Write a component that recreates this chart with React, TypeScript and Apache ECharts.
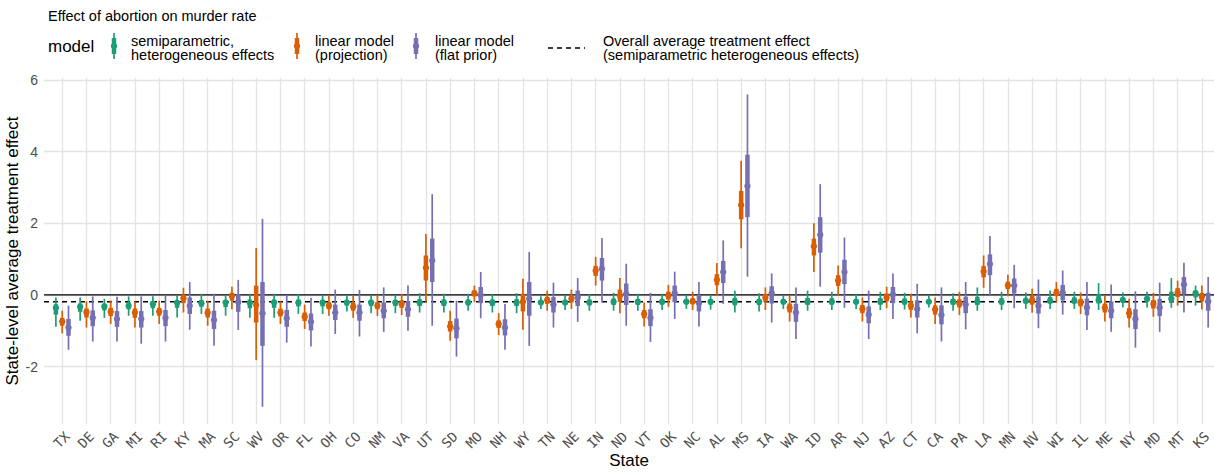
import React, { useEffect, useRef } from "react";
import * as echarts from "echarts";

const states = ["TX","DE","GA","MI","RI","KY","MA","SC","WV","OR","FL","OH","CO","NM","VA","UT","SD","MO","NH","WY","TN","NE","IN","ND","VT","OK","NC","AL","MS","IA","WA","ID","AR","NJ","AZ","CT","CA","PA","LA","MN","NV","WI","IL","ME","NY","MD","MT","KS"];

// semiparametric, heterogeneous effects
const semiPoint = [-0.36,-0.33,-0.32,-0.30,-0.25,-0.22,-0.23,-0.21,-0.22,-0.21,-0.21,-0.21,-0.21,-0.21,-0.21,-0.21,-0.21,-0.21,-0.21,-0.21,-0.21,-0.21,-0.21,-0.19,-0.19,-0.19,-0.19,-0.19,-0.19,-0.19,-0.19,-0.19,-0.19,-0.19,-0.19,-0.19,-0.19,-0.19,-0.19,-0.19,-0.16,-0.16,-0.16,-0.14,-0.14,-0.11,-0.11,0.05];
const semiLo95 = [-0.89,-0.72,-0.64,-0.58,-0.58,-0.63,-0.53,-0.58,-0.64,-0.64,-0.53,-0.53,-0.46,-0.51,-0.51,-0.49,-0.49,-0.44,-0.49,-0.51,-0.39,-0.42,-0.44,-0.44,-0.44,-0.42,-0.39,-0.41,-0.49,-0.46,-0.39,-0.44,-0.42,-0.39,-0.42,-0.41,-0.35,-0.44,-0.44,-0.42,-0.39,-0.39,-0.39,-0.42,-0.35,-0.35,-0.36,-0.30];
const semiHi95 = [-0.07,-0.07,-0.11,-0.04,-0.04,-0.02,0.03,-0.02,0.03,0.03,0.03,0.00,0.00,0.00,0.00,0.05,0.03,0.03,0.03,0.05,-0.04,-0.02,0.03,0.06,0.03,0.03,0.00,0.00,0.12,0.05,-0.02,0.12,0.09,0.03,0.09,0.06,-0.02,0.05,0.21,0.09,0.07,0.12,0.09,0.33,0.07,0.09,0.47,0.26];
const semiLo66 = [-0.55,-0.47,-0.43,-0.40,-0.37,-0.36,-0.33,-0.34,-0.37,-0.36,-0.32,-0.32,-0.30,-0.31,-0.31,-0.31,-0.31,-0.29,-0.31,-0.31,-0.27,-0.28,-0.29,-0.28,-0.28,-0.27,-0.26,-0.27,-0.29,-0.28,-0.26,-0.28,-0.27,-0.26,-0.27,-0.27,-0.25,-0.28,-0.28,-0.27,-0.24,-0.24,-0.24,-0.24,-0.21,-0.19,-0.20,-0.07];
const semiHi66 = [-0.26,-0.24,-0.25,-0.21,-0.18,-0.15,-0.14,-0.14,-0.13,-0.13,-0.13,-0.14,-0.14,-0.14,-0.14,-0.12,-0.13,-0.13,-0.13,-0.12,-0.15,-0.14,-0.13,-0.10,-0.11,-0.11,-0.12,-0.12,-0.08,-0.11,-0.13,-0.08,-0.09,-0.11,-0.09,-0.10,-0.13,-0.11,-0.05,-0.09,-0.08,-0.06,-0.07,0.02,-0.07,-0.04,0.09,0.12];

// linear model (projection)
const projPoint = [-0.74,-0.48,-0.47,-0.49,-0.46,-0.09,-0.50,-0.03,-0.28,-0.49,-0.61,-0.30,-0.33,-0.30,-0.25,0.76,-0.88,0.05,-0.81,-0.19,-0.14,-0.11,0.68,-0.02,-0.53,-0.02,-0.18,0.42,2.51,-0.07,-0.36,1.36,0.40,-0.39,-0.07,-0.30,-0.41,-0.23,0.65,0.26,-0.14,0.07,-0.21,-0.36,-0.51,-0.25,0.07,-0.05];
const projLo95 = [-1.07,-0.91,-0.81,-0.91,-0.81,-0.49,-0.86,-0.40,-1.82,-0.81,-0.95,-0.58,-0.64,-0.59,-0.56,-0.19,-1.28,-0.20,-1.12,-0.97,-0.44,-0.39,0.26,-0.51,-0.88,-0.33,-0.42,-0.02,1.30,-0.42,-0.74,0.64,-0.02,-0.74,-0.37,-0.63,-0.81,-0.56,0.20,-0.04,-0.50,-0.21,-0.53,-0.74,-0.91,-0.61,-0.30,-0.41];
const projHi95 = [-0.44,-0.18,-0.16,-0.18,-0.16,0.20,-0.16,0.23,1.31,-0.18,-0.27,-0.02,-0.02,0.00,0.03,1.70,-0.44,0.26,-0.51,0.45,0.12,0.15,1.06,0.47,-0.21,0.28,0.09,0.89,3.74,0.21,-0.02,2.00,0.82,-0.07,0.23,0.03,-0.07,0.09,1.10,0.56,0.17,0.36,0.07,-0.03,-0.11,0.06,0.40,0.26];
const projLo66 = [-0.86,-0.63,-0.59,-0.64,-0.58,-0.23,-0.63,-0.16,-0.77,-0.60,-0.73,-0.40,-0.44,-0.40,-0.36,0.40,-1.02,-0.04,-0.92,-0.46,-0.25,-0.21,0.53,-0.19,-0.65,-0.13,-0.26,0.27,2.11,-0.19,-0.49,1.10,0.25,-0.51,-0.18,-0.42,-0.55,-0.35,0.49,0.16,-0.27,-0.03,-0.32,-0.49,-0.65,-0.38,-0.06,-0.18];
const projHi66 = [-0.64,-0.38,-0.36,-0.38,-0.36,0.01,-0.38,0.06,0.26,-0.38,-0.49,-0.20,-0.22,-0.20,-0.15,1.10,-0.73,0.12,-0.71,0.03,-0.05,-0.02,0.81,0.15,-0.42,0.09,-0.09,0.58,2.90,0.03,-0.24,1.57,0.55,-0.28,0.04,-0.18,-0.29,-0.12,0.81,0.37,-0.03,0.17,-0.11,-0.24,-0.37,-0.14,0.19,0.06];

// linear model (flat prior)
const flatPoint = [-0.91,-0.64,-0.67,-0.67,-0.64,-0.30,-0.70,-0.20,-0.51,-0.65,-0.75,-0.49,-0.49,-0.44,-0.40,0.96,-0.93,0.00,-0.91,-0.11,-0.27,-0.07,0.73,0.03,-0.64,0.05,-0.23,0.64,3.04,0.05,-0.49,1.68,0.64,-0.55,0.01,-0.39,-0.56,-0.27,0.86,0.26,-0.30,0.07,-0.35,-0.44,-0.67,-0.35,0.29,-0.18];
const flatLo95 = [-1.53,-1.30,-1.30,-1.36,-1.30,-0.97,-1.42,-0.98,-3.12,-1.33,-1.44,-1.09,-1.16,-1.03,-1.00,-0.86,-1.72,-0.65,-1.53,-1.42,-0.91,-0.75,-0.21,-0.86,-1.31,-0.67,-0.88,-0.25,0.51,-0.77,-1.23,0.23,-0.36,-1.23,-0.67,-1.07,-1.30,-0.96,-0.02,-0.37,-0.93,-0.55,-0.98,-1.03,-1.47,-1.03,-0.49,-0.91];
const flatHi95 = [-0.30,-0.04,-0.05,-0.04,0.00,0.36,0.03,0.42,2.12,0.00,-0.08,0.15,0.14,0.21,0.26,2.81,-0.16,0.64,-0.25,1.20,0.34,0.47,1.59,0.87,0.06,0.65,0.36,1.52,5.59,0.60,0.21,3.09,1.60,0.12,0.60,0.31,0.21,0.36,1.64,0.84,0.43,0.68,0.36,0.29,0.10,0.34,0.90,0.50];
const flatLo66 = [-1.14,-0.87,-0.89,-0.91,-0.87,-0.53,-0.95,-0.47,-1.42,-0.89,-0.99,-0.70,-0.72,-0.65,-0.61,0.36,-1.21,-0.23,-1.13,-0.58,-0.49,-0.31,0.40,-0.28,-0.87,-0.20,-0.46,0.33,2.17,-0.24,-0.75,1.18,0.30,-0.79,-0.23,-0.63,-0.82,-0.51,0.55,0.04,-0.52,-0.15,-0.57,-0.65,-0.95,-0.59,0.02,-0.44];
const flatHi66 = [-0.67,-0.43,-0.45,-0.45,-0.42,-0.07,-0.44,0.02,0.36,-0.42,-0.52,-0.27,-0.27,-0.21,-0.17,1.57,-0.66,0.22,-0.68,0.36,-0.06,0.12,1.03,0.32,-0.40,0.26,-0.02,0.95,3.91,0.24,-0.25,2.17,0.98,-0.32,0.22,-0.15,-0.29,-0.05,1.13,0.46,-0.04,0.28,-0.10,-0.18,-0.40,-0.11,0.50,0.06];

const yTicks = [-2, 0, 2, 4, 6];
const overallATE = -0.19;
const modelLabels = ["semiparametric,\nheterogeneous effects", "linear model\n(projection)", "linear model\n(flat prior)"];
const modelColors = ["#1b9e77", "#d95f02", "#7570b3"];
const ateLabel = "Overall average treatment effect\n(semiparametric heterogeneous effects)";
const titleText = "Effect of abortion on murder rate";

const SANS = '"Liberation Sans", Arial, Helvetica, sans-serif';
const MONO = '"DejaVu Sans Mono", monospace';

export default function App() {
  const ref = useRef<HTMLDivElement>(null);

  useEffect(() => {
    document.body.style.margin = "0";
    const chart = echarts.init(ref.current as HTMLDivElement, null, { renderer: "svg" });
    const xMin = -0.75;
    const xMax = 47.5;
    const stateIdx = states.map((_, i) => i);
    const dodge = [-0.26, 0, 0.26];

    const makeSeries = (
      m: number,
      point: number[],
      lo95: number[],
      hi95: number[],
      lo66: number[],
      hi66: number[]
    ) => ({
      type: "custom",
      name: modelLabels[m],
      z: 5,
      data: states.map((_, k) => [k, point[k], lo95[k], hi95[k], lo66[k], hi66[k]]),
      encode: { x: 0, y: [1, 2, 3, 4, 5] },
      renderItem: (params: any, api: any) => {
        const xv = api.value(0) + dodge[m];
        const p = api.coord([xv, api.value(1)]);
        const l95 = api.coord([xv, api.value(2)]);
        const h95 = api.coord([xv, api.value(3)]);
        const l66 = api.coord([xv, api.value(4)]);
        const h66 = api.coord([xv, api.value(5)]);
        const c = modelColors[m];
        return {
          type: "group",
          children: [
            { type: "line", shape: { x1: p[0], y1: l95[1], x2: p[0], y2: h95[1] }, style: { stroke: c, lineWidth: 1.7 } },
            { type: "line", shape: { x1: p[0], y1: l66[1], x2: p[0], y2: h66[1] }, style: { stroke: c, lineWidth: 4.5 } },
            { type: "circle", shape: { cx: p[0], cy: p[1], r: 3.2 }, style: { fill: c } },
          ],
        };
      },
    });

    const legendKeyX = [114, 297, 416];
    const legendTextX = [131, 315, 435];
    const legendGraphics: any[] = [
      { type: "text", left: 48, top: 38, style: { text: "model", fontSize: 17, fontFamily: SANS, fill: "#000" } },
    ];
    const twoLineText = (t: string, x: number) => [
      {
        type: "text",
        x,
        y: 41.3,
        style: { text: t.split("\n")[0], fontSize: 14.5, fontFamily: SANS, fill: "#000", verticalAlign: "middle" },
      },
      {
        type: "text",
        x,
        y: 55.3,
        style: { text: t.split("\n")[1], fontSize: 14.5, fontFamily: SANS, fill: "#000", verticalAlign: "middle" },
      },
    ];
    modelColors.forEach((c, i) => {
      const kx = legendKeyX[i];
      legendGraphics.push(
        { type: "line", shape: { x1: kx, y1: 33, x2: kx, y2: 59 }, style: { stroke: c, lineWidth: 1.7 } },
        { type: "line", shape: { x1: kx, y1: 38, x2: kx, y2: 54 }, style: { stroke: c, lineWidth: 4.5 } },
        { type: "circle", shape: { cx: kx, cy: 46, r: 3.2 }, style: { fill: c } },
        ...twoLineText(modelLabels[i], legendTextX[i])
      );
    });
    legendGraphics.push(
      { type: "line", shape: { x1: 548, y1: 48, x2: 585, y2: 48 }, style: { stroke: "#000", lineWidth: 1.3, lineDash: [5, 4] } },
      ...twoLineText(ateLabel, 603)
    );

    const option: any = {
      animation: false,
      backgroundColor: "#ffffff",
      title: {
        text: titleText,
        left: 48,
        top: 8,
        padding: 0,
        textStyle: { fontSize: 14.5, fontWeight: "normal", color: "#000", fontFamily: SANS },
      },
      grid: { left: 44, right: 0, top: 78, bottom: 49, containLabel: false, outerBoundsMode: "none" },
      xAxis: {
        type: "value",
        min: xMin,
        max: xMax,
        name: "State",
        nameLocation: "middle",
        nameGap: 28,
        nameMoveOverlap: false,
        nameTextStyle: { fontSize: 17, color: "#000", fontFamily: SANS },
        axisLine: { show: false },
        axisTick: { show: false, customValues: stateIdx },
        axisLabel: {
          customValues: stateIdx,
          formatter: (v: number) => states[Math.round(v)] ?? "",
          rotate: 45,
          align: "right",
          verticalAlign: "top",
          margin: 5,
          fontFamily: MONO,
          fontSize: 13.5,
          color: "#4d4d4d",
        },
        splitLine: { show: true, lineStyle: { color: "#e3e3e3", width: 1.3 } },
      },
      yAxis: {
        type: "value",
        min: -3.6,
        max: 6.05,
        name: "State-level average treatment effect",
        nameLocation: "middle",
        nameRotate: 90,
        nameGap: 23,
        nameMoveOverlap: false,
        nameTextStyle: { fontSize: 17, color: "#000", fontFamily: SANS },
        axisLine: { show: false },
        axisTick: { show: false, customValues: yTicks },
        axisLabel: {
          customValues: yTicks,
          margin: 6,
          fontFamily: SANS,
          fontSize: 14,
          color: "#4d4d4d",
        },
        splitLine: { show: true, lineStyle: { color: "#e3e3e3", width: 1.3 } },
      },
      series: [
        {
          type: "line",
          z: 2,
          symbol: "none",
          silent: true,
          data: [[xMin, 0], [xMax, 0]],
          lineStyle: { color: "#000", width: 1.3 },
        },
        {
          type: "line",
          z: 2,
          symbol: "none",
          silent: true,
          data: [[xMin, overallATE], [xMax, overallATE]],
          lineStyle: { color: "#000", width: 1.3, type: [5, 4] },
        },
        makeSeries(0, semiPoint, semiLo95, semiHi95, semiLo66, semiHi66),
        makeSeries(1, projPoint, projLo95, projHi95, projLo66, projHi66),
        makeSeries(2, flatPoint, flatLo95, flatHi95, flatLo66, flatHi66),
      ],
      graphic: legendGraphics,
    };

    chart.setOption(option);
    return () => {
      chart.dispose();
    };
  }, []);

  return <div ref={ref} style={{ width: 1214, height: 473 }} />;
}
